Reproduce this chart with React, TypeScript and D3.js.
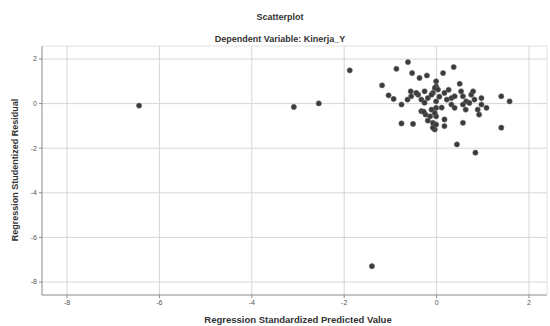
import React from "react";
import * as d3 from "d3";

const title = "Scatterplot";
const subtitle = "Dependent Variable: Kinerja_Y";
const xLabel = "Regression Standardized Predicted Value";
const yLabel = "Regression Studentized Residual";
const xTicks = [-8, -6, -4, -2, 0, 2];
const yTicks = [2, 0, -2, -4, -6, -8];

const predicted = [
  -6.44, -3.09, -2.55, -1.88, -1.4,
  -0.62, -0.87, -0.53, -0.37, -0.21, -1.18, -1.04, -0.93, -0.76, -0.56,
  -0.55, -0.4, -0.33, -0.26, -0.19, -0.08, -0.01, -0.33, -0.24, -0.14,
  -0.08, -0.04, -0.76, -0.51, -0.01, -0.01, 0.37, 0.14, 0.5, -0.01,
  -0.04, 0.03, -0.11, 0.17, 0.32, 0.39, 0.53, 0.57, 0.64, 0.75,
  0.79, 0.82, 0.57, 0.71, 0.97, 0.97, 1.08, 0.89, 0.92, 1.4,
  1.58, 1.4, 0.57, 0.17, 0.17, -0.01, -0.04, -0.11, -0.01, -0.08,
  0.44, 0.84, 0.32, 0.39, -0.44, -0.26, -0.63, 0.06, 0.22, -0.28,
  -0.19, 0.26, 0.63, 0.11,
];
const residual = [
  -0.09, -0.15, 0.01, 1.49, -7.29,
  1.86, 1.56, 1.37, 1.15, 1.26, 0.82, 0.37, 0.21, -0.04, 0.55,
  0.33, 0.4, 0.18, 0.55, 0.25, 0.48, 0.77, -0.34, -0.49, -0.57,
  -0.86, -1.16, -0.89, -0.91, -0.19, 0.1, 1.64, 1.37, 0.89, 1.0,
  0.7, 0.63, 0.4, 0.48, 0.25, 0.33, 0.55, 0.33, 0.1, 0.4,
  0.55, 0.18, -0.04, 0.03, 0.25, -0.04, -0.19, -0.27, -0.49, 0.33,
  0.1, -1.08, -0.86, -0.71, -1.01, -0.57, -0.42, -0.27, -0.94, -1.08,
  -1.83, -2.2, -0.04, -0.19, 0.48, 0.04, 0.18, 0.31, 0.18, -0.36,
  -0.76, 0.62, -0.27, -0.18,
];

const W = 550;
const H = 326;
const left = 42;
const right = 547;
const top = 46;
const bottom = 295;

export default function App() {
  const x = d3.scaleLinear().domain([-8, 2]).range([67, 529]);
  const y = d3.scaleLinear().domain([-8, 2]).range([282, 59]);
  const font = "'Liberation Sans', Arial, sans-serif";
  const pts = predicted.map((p, i) => ({ p, r: residual[i] }));
  return (
    <svg
      width={W}
      height={H}
      style={{ position: "absolute", left: 0, top: 0, background: "#fff" }}
      fontFamily={font}
    >
      <rect x={0} y={0} width={W} height={H} fill="#fff" />
      {xTicks.map((t) => (
        <line key={"gx" + t} x1={x(t)} x2={x(t)} y1={top} y2={bottom} stroke="#d6d6d6" strokeWidth={1} />
      ))}
      {yTicks.map((t) => (
        <line key={"gy" + t} x1={left} x2={right} y1={y(t)} y2={y(t)} stroke="#d6d6d6" strokeWidth={1} />
      ))}
      <line x1={left} x2={left} y1={top} y2={bottom} stroke="#8a8a8a" strokeWidth={1} />
      <line x1={left} x2={right} y1={bottom} y2={bottom} stroke="#8a8a8a" strokeWidth={1} />
      <line x1={left} x2={right} y1={top} y2={top} stroke="#e2e2e2" strokeWidth={1} />
      <line x1={right} x2={right} y1={top} y2={bottom} stroke="#e2e2e2" strokeWidth={1} />
      {yTicks.map((t) => (
        <g key={"ty" + t}>
          <line x1={left - 3} x2={left} y1={y(t)} y2={y(t)} stroke="#8a8a8a" />
          <text x={37} y={y(t)} dy="0.35em" textAnchor="end" fontSize={7} fill="#555">
            {t}
          </text>
        </g>
      ))}
      {xTicks.map((t) => (
        <g key={"tx" + t}>
          <line x1={x(t)} x2={x(t)} y1={bottom} y2={bottom + 3} stroke="#8a8a8a" />
          <text x={x(t)} y={305} textAnchor="middle" fontSize={7} fill="#555">
            {t}
          </text>
        </g>
      ))}
      {pts.map((d, i) => (
        <circle key={i} cx={x(d.p)} cy={y(d.r)} r={2.6} fill="#3b3b3b" stroke="#666" strokeWidth={0.6} />
      ))}
      <text x={280} y={20} textAnchor="middle" fontSize={9} fontWeight="bold" fill="#333">
        {title}
      </text>
      <text x={280} y={42} textAnchor="middle" fontSize={9} fontWeight="bold" fill="#333">
        {subtitle}
      </text>
      <text x={298} y={323} textAnchor="middle" fontSize={9.5} fontWeight="bold" fill="#333">
        {xLabel}
      </text>
      <text
        transform={`translate(18,170) rotate(-90)`}
        textAnchor="middle"
        fontSize={9}
        fontWeight="bold"
        fill="#333"
      >
        {yLabel}
      </text>
    </svg>
  );
}
